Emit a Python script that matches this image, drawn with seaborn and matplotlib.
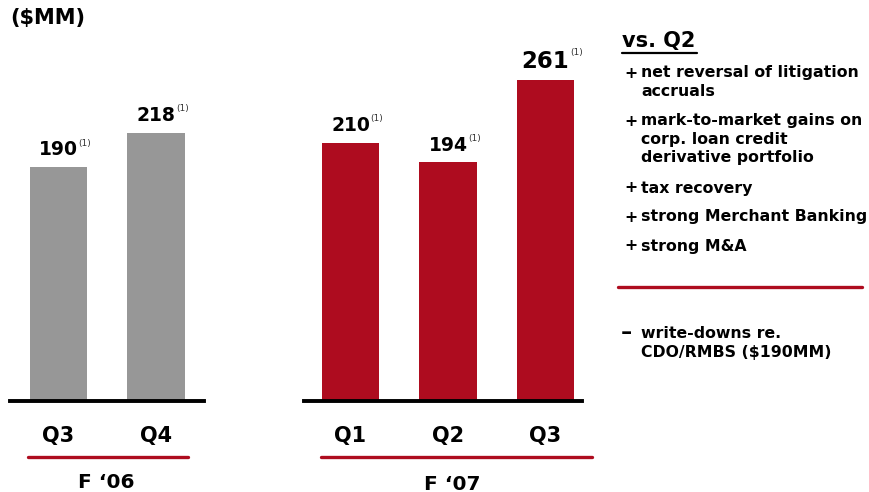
import matplotlib
matplotlib.use("Agg")
import matplotlib.pyplot as plt
import seaborn as sns
from matplotlib.lines import Line2D

# ---- data ----
cats_06 = ["Q3", "Q4"]
vals_06 = [190, 218]
cats_07 = ["Q1", "Q2", "Q3"]
vals_07 = [210, 194, 261]
group_labels = ["F \u201806", "F \u201807"]
note_title = "vs. Q2"
plus_items = [
    ["net reversal of litigation", "accruals"],
    ["mark-to-market gains on", "corp. loan credit", "derivative portfolio"],
    ["tax recovery"],
    ["strong Merchant Banking"],
    ["strong M&A"],
]
minus_items = [["write-downs re.", "CDO/RMBS ($190MM)"]]
unit_label = "($MM)"

GRAY = "#979797"
RED = "#AE0C1F"
W, H = 870, 492

sns.set_theme(style="white")
plt.rcParams["font.family"] = ["DejaVu Sans"]
plt.rcParams["font.weight"] = "bold"
plt.rcParams["text.color"] = "black"
plt.rcParams["xtick.color"] = "black"

fig = plt.figure(figsize=(W / 100, H / 100), dpi=100)


def fx(x):
    return x / W


def fy(y):
    return 1 - y / H


base_y = 401
px_per_unit = 1.23
top_units = 320
unit = 97.5


def make_ax(x0, x1, cats, vals, color, first_center, big_idx=None):
    ax_h = top_units * px_per_unit
    ax = fig.add_axes([fx(x0), fy(base_y), (x1 - x0) / W, ax_h / H])
    sns.barplot(x=cats, y=vals, ax=ax, color=color, width=0.585,
                errorbar=None, linewidth=0, saturation=1)
    ax.set_xlim((x0 - first_center) / unit, (x1 - first_center) / unit)
    ax.set_ylim(0, top_units)
    for s in ["top", "left", "right"]:
        ax.spines[s].set_visible(False)
    ax.spines["bottom"].set_color("black")
    ax.spines["bottom"].set_linewidth(2.8)
    ax.set_yticks([])
    ax.tick_params(axis="x", length=0, pad=18, labelsize=15, labelcolor="black")
    for lab in ax.get_xticklabels():
        lab.set_fontweight("bold")
    ax.set_facecolor("none")
    for i, v in enumerate(vals):
        size = 16.5 if i == big_idx else 13.5
        t = ax.annotate(f"{v}", xy=(i, v), xytext=(0, 8.5), textcoords="offset points",
                        ha="center", va="baseline", fontsize=size, fontweight="bold",
                        color="black")
        ax.annotate("(1)", xy=(1, 1), xycoords=t, xytext=(0.3, 1.2),
                    textcoords="offset points", ha="left", va="top",
                    fontsize=6.5, fontweight="normal", color="#333333")
    return ax


make_ax(10, 204, cats_06, vals_06, GRAY, 58.5)
make_ax(304, 582, cats_07, vals_07, RED, 350.5, big_idx=2)

# group underline + labels
for (x0, x1, xc, yt), lab in zip([(28, 188, 106, 482), (321, 592, 452, 484)], group_labels):
    fig.add_artist(Line2D([fx(x0), fx(x1)], [fy(457), fy(457)], color=RED, linewidth=2.4))
    fig.text(fx(xc), fy(yt), lab, ha="center", va="center", fontsize=14.5, fontweight="bold")

fig.text(fx(10), fy(18), unit_label, ha="left", va="center", fontsize=15, fontweight="bold")

# right-hand notes
fig.text(fx(622), fy(41), note_title, ha="left", va="center", fontsize=15, fontweight="bold")
fig.add_artist(Line2D([fx(622), fx(697)], [fy(52.5), fy(52.5)], color="black", linewidth=1.6))

line_h = 18.3
ys_start = [73, 121, 188, 217, 246]
for y0, item in zip(ys_start, plus_items):
    fig.text(fx(624), fy(y0), "+", ha="left", va="center", fontsize=11.3, fontweight="bold")
    for k, line in enumerate(item):
        fig.text(fx(641), fy(y0 + k * line_h), line, ha="left", va="center",
                 fontsize=11.3, fontweight="bold")

fig.add_artist(Line2D([fx(618), fx(862)], [fy(287), fy(287)], color=RED, linewidth=2.4))

for y0, item in zip([334], minus_items):
    fig.text(fx(621), fy(y0 - 1), "\u2013", ha="left", va="center", fontsize=16, fontweight="bold")
    for k, line in enumerate(item):
        fig.text(fx(641), fy(y0 + k * line_h), line, ha="left", va="center",
                 fontsize=11.3, fontweight="bold")

fig.savefig("out.png", dpi=100, facecolor="white")
